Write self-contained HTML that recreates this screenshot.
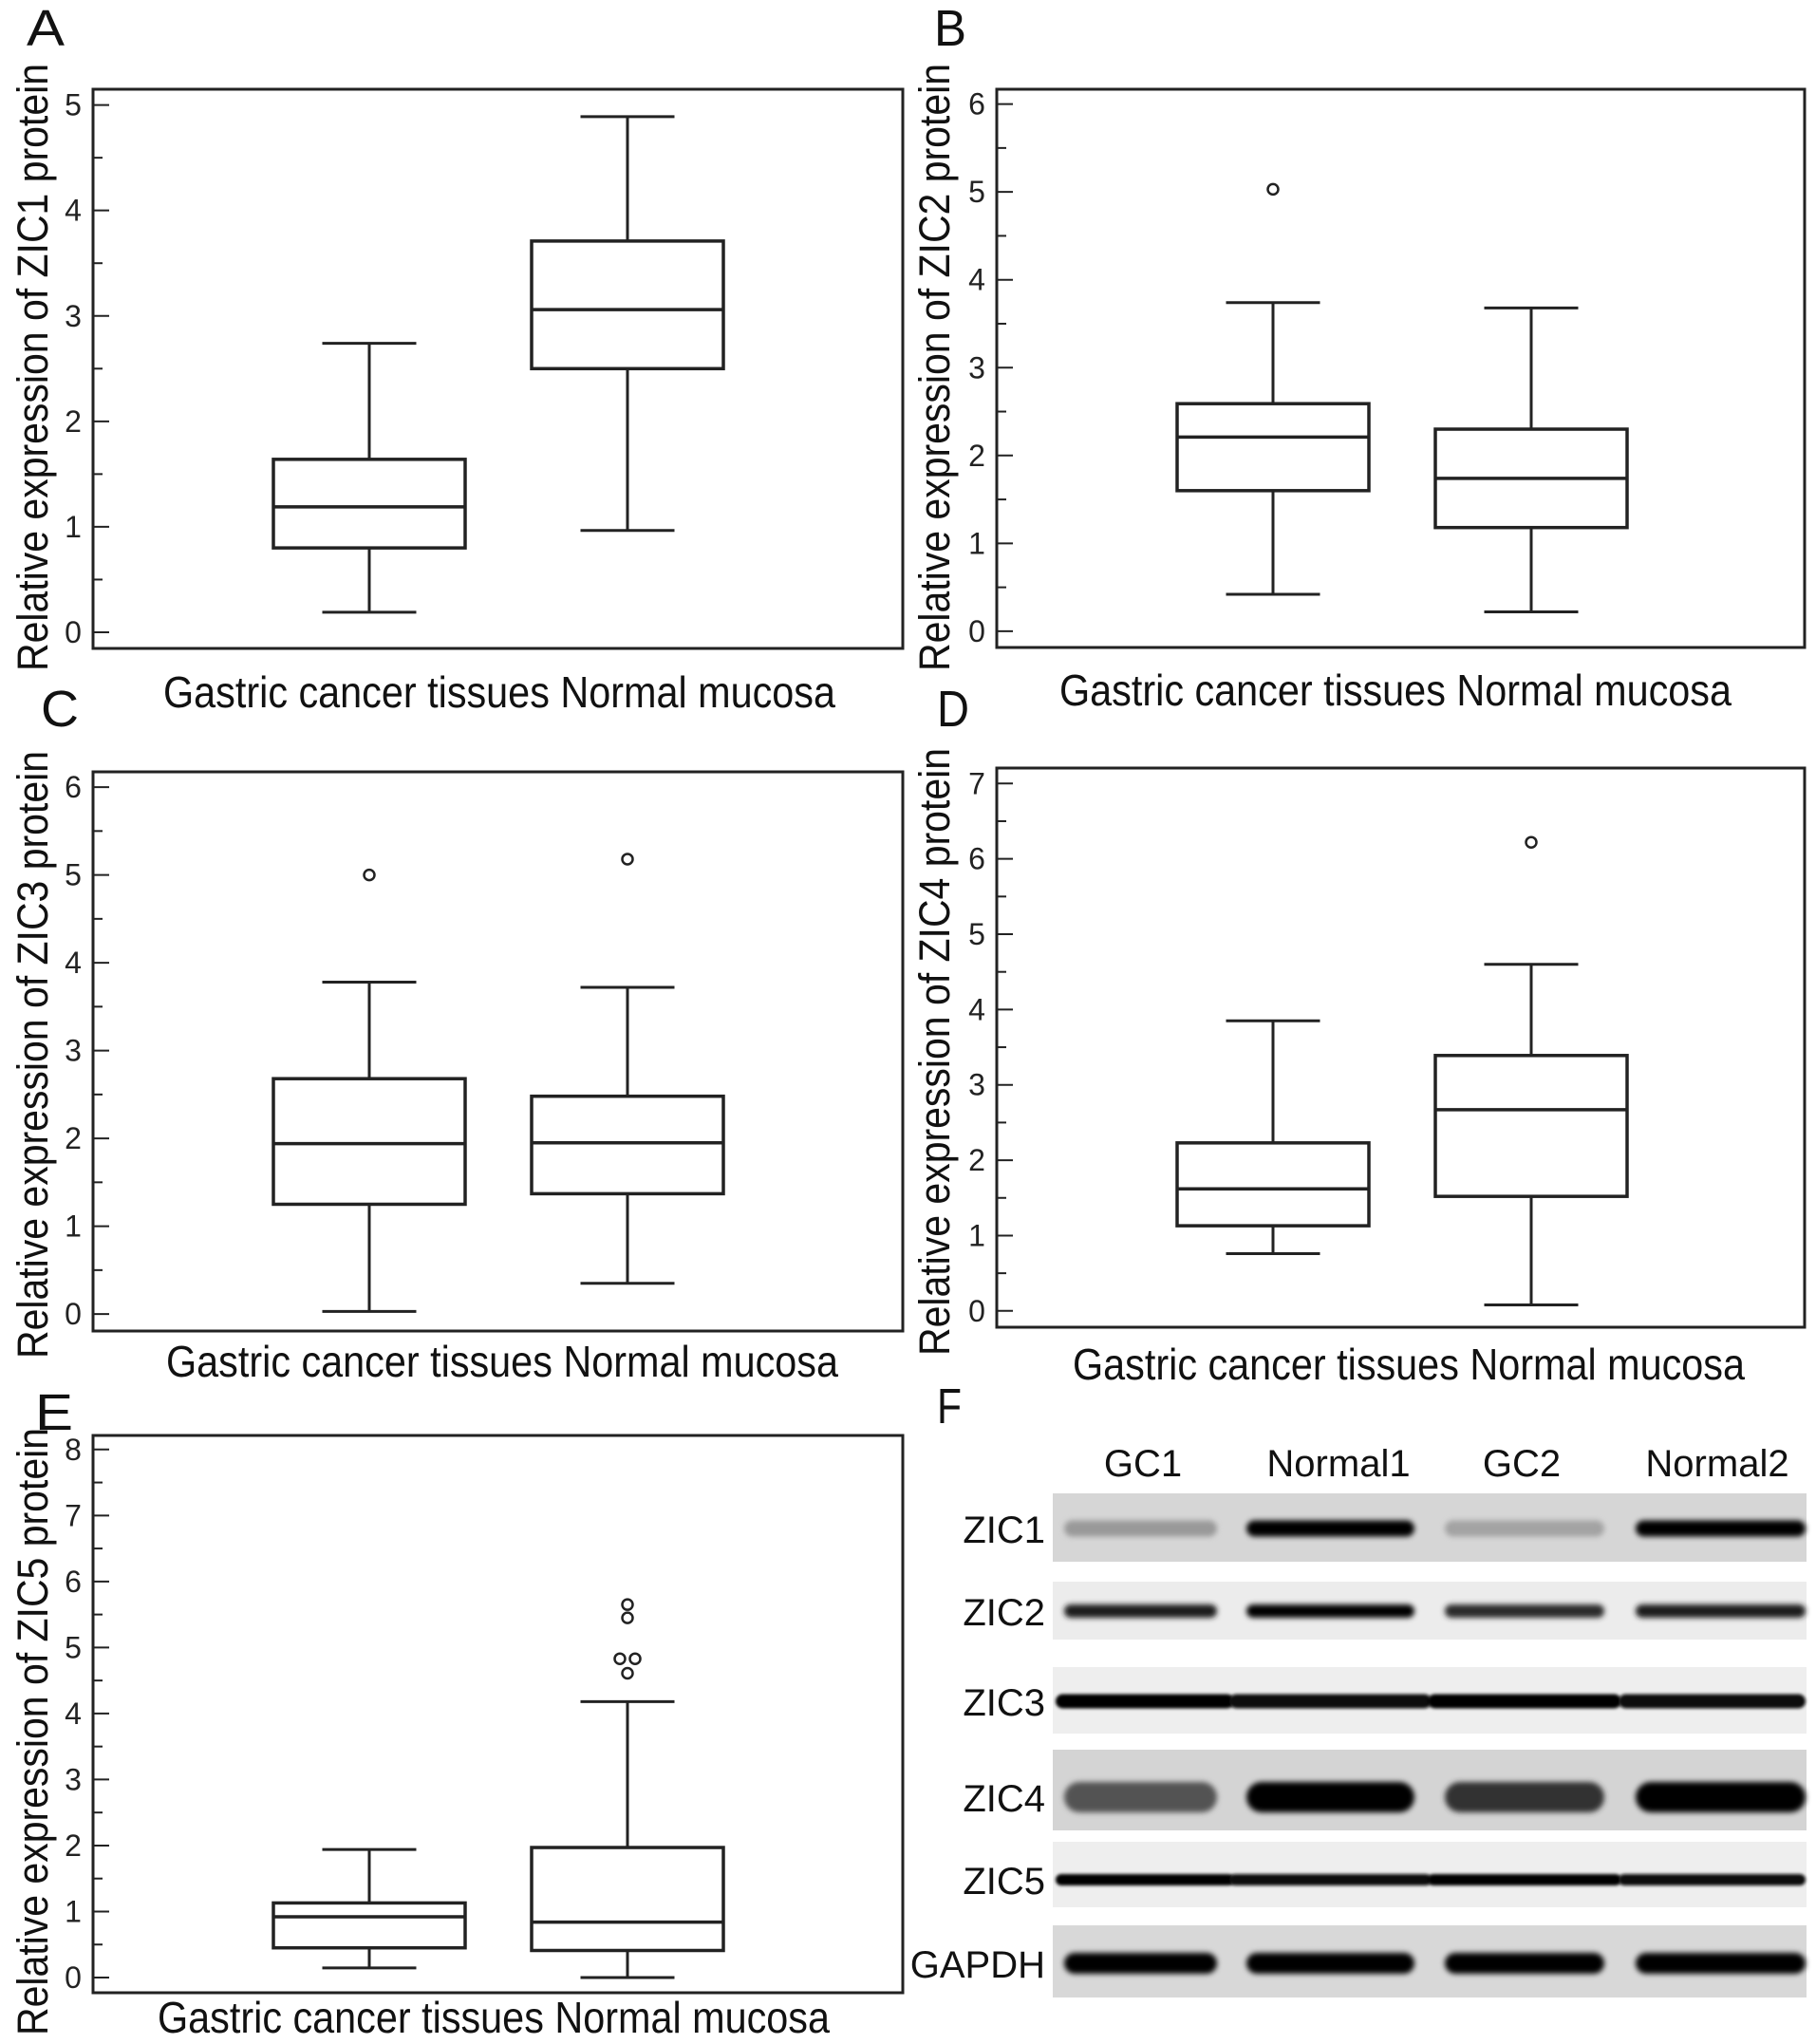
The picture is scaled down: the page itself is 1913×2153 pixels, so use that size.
<!DOCTYPE html>
<html><head><meta charset="utf-8"><style>
html,body{margin:0;padding:0;background:#fff;}
svg{display:block;font-family:"Liberation Sans",Arial,sans-serif;}
</style></head><body>
<svg id="fig" width="1913" height="2153" viewBox="0 0 1913 2153" xmlns="http://www.w3.org/2000/svg">
<defs>
<filter id="blur" x="-10%" y="-100%" width="120%" height="300%"><feGaussianBlur stdDeviation="3"/></filter>
<filter id="blur2" x="-10%" y="-100%" width="120%" height="300%"><feGaussianBlur stdDeviation="1.6"/></filter>
</defs>
<g id="plots"></g>
<g id="blot"></g>
</svg>
<script>
const NS="http://www.w3.org/2000/svg";
// ---- data ----
const groups=["Gastric cancer tissues","Normal mucosa"];
const proteins=["ZIC1","ZIC2","ZIC3","ZIC4","ZIC5"];
const panelLetters=["A","B","C","D","E"];
const yMaxTicks=[5,6,6,7,8];
// [min, q1, median, q3, max] for cancer / normal
const cancerStats=[[0.19,0.80,1.19,1.64,2.74],[0.42,1.60,2.21,2.59,3.74],[0.03,1.25,1.94,2.68,3.78],[0.76,1.13,1.62,2.23,3.85],[0.145,0.45,0.92,1.13,1.94]];
const normalStats=[[0.965,2.50,3.06,3.71,4.89],[0.22,1.18,1.74,2.30,3.68],[0.35,1.37,1.95,2.48,3.72],[0.08,1.52,2.67,3.39,4.60],[0.0,0.41,0.84,1.97,4.18]];
const cancerOutliers=[[],[5.03],[5.0],[],[]];
const normalOutliers=[[],[],[5.18],[6.22],[5.65,5.45,4.83,4.83,4.61]];
const normalOutlierJitter=[[],[],[0],[0],[0,0,-8,8,0]];
// ---- layout ----
const layouts=[
 {fx0:98,fx1:951,fy0:94,fy1:683,zero:666,top:110.6,c1:389,c2:661,lab:77,letter:[28,48],yl:[34,387],xl:[526,745]},
 {fx0:1050,fx1:1901,fy0:94,fy1:682,zero:664.9,top:109.6,c1:1341,c2:1613,lab:1029,letter:[984,48],yl:[984,387],xl:[1470,743]},
 {fx0:98,fx1:951,fy0:813,fy1:1402,zero:1384.1,top:829.1,c1:389,c2:661,lab:77,letter:[43,765],yl:[34,1111],xl:[529,1450]},
 {fx0:1050,fx1:1901,fy0:809,fy1:1398,zero:1380.8,top:825.3,c1:1341,c2:1613,lab:1029,letter:[987,765],yl:[984,1108],xl:[1484,1453]},
 {fx0:98,fx1:951,fy0:1512,fy1:2099,zero:2083,top:1526.8,c1:389,c2:661,lab:77,letter:[37,1506],yl:[34,1824],xl:[520,2141]}
];
const plots=document.getElementById('plots');
function mk(tag,attrs,parent){const e=document.createElementNS(NS,tag);for(const k in attrs)e.setAttribute(k,attrs[k]);(parent||plots).appendChild(e);return e;}
function line(g,x1,y1,x2,y2,w){return mk('line',{x1,y1,x2,y2,stroke:'#222',"stroke-width":w||3},g);}
function drawBox(g,yS,cx,st,outs,jit,name){
  const bg=mk('g',{},g);
  
  
  const hw=101,cw=49.5;
  line(bg,cx,yS(st[0]),cx,yS(st[1]));
  line(bg,cx,yS(st[3]),cx,yS(st[4]));
  line(bg,cx-cw,yS(st[0]),cx+cw,yS(st[0]));
  line(bg,cx-cw,yS(st[4]),cx+cw,yS(st[4]));
  mk('rect',{x:cx-hw,y:yS(st[3]),width:2*hw,height:yS(st[1])-yS(st[3]),fill:'none',stroke:'#222',"stroke-width":3.5},bg);
  line(bg,cx-hw,yS(st[2]),cx+hw,yS(st[2]),3.5);
  outs.forEach((v,i)=>{
    const c=mk('circle',{cx:cx+(jit?jit[i]:0),cy:yS(v),r:5.5,fill:'#fff',stroke:'#222',"stroke-width":2.5},bg);
    
    
  });
}
layouts.forEach((L,p)=>{
  const g=mk('g',{});
  
  
  const maxT=yMaxTicks[p];
  const ppu=(L.zero-L.top)/maxT;
  const yS=v=>L.zero-v*ppu;
  const fr=mk('rect',{x:L.fx0,y:L.fy0,width:L.fx1-L.fx0,height:L.fy1-L.fy0,fill:'none',stroke:'#222',"stroke-width":3},g);
  
  
  for(let t=0;t<=maxT;t++){
    line(g,L.fx0,yS(t),L.fx0+17,yS(t),2);
    if(t<maxT) line(g,L.fx0,yS(t+0.5),L.fx0+10,yS(t+0.5),2);
    const tx=mk('text',{x:L.lab,y:yS(t)+11,"font-size":32,"text-anchor":'middle',fill:'#222'},g);
    tx.textContent=t;
    
    
  }
  drawBox(g,yS,L.c1,cancerStats[p],cancerOutliers[p],null,'box-cancer');
  drawBox(g,yS,L.c2,normalStats[p],normalOutliers[p],normalOutlierJitter[p],'box-normal');
  const yl=mk('text',{x:0,y:0,"font-size":45,"text-anchor":'middle',fill:'#111',transform:`translate(${L.yl[0]+16},${L.yl[1]}) rotate(-90)`,textLength:640,lengthAdjust:'spacingAndGlyphs'},g);
  yl.textContent='Relative expression of '+proteins[p]+' protein';
  
  
  const xl=mk('text',{x:L.xl[0],y:L.xl[1],"font-size":46,"text-anchor":'middle',fill:'#111',textLength:708,lengthAdjust:'spacingAndGlyphs'},g);
  xl.textContent=groups.join(' ');
  
  
  const lt=mk('text',{x:L.letter[0],y:L.letter[1],"font-size":54,fill:'#111',textLength:L.letter[0]>900?34:40,lengthAdjust:'spacingAndGlyphs'},g);
  lt.textContent=panelLetters[p];
  
  
});
// ---- western blot ----
const blot=document.getElementById('blot');
const laneNames=["GC1","Normal1","GC2","Normal2"];
const rowNames=["ZIC1","ZIC2","ZIC3","ZIC4","ZIC5","GAPDH"];
// band darkness (0 = white, 1 = black) per lane
const bandIntensity=[[0.25,1,0.2,1],[0.85,1,0.8,0.85],[1,0.95,1,0.95],[0.6,1,0.75,1],[1,0.95,1,0.95],[1,1,1,1]];
const stripY=[[1573,1645],[1666,1727],[1756,1826],[1843,1928],[1940,2009],[2028,2104]];
const stripBg=['#d6d6d6','#ececec','#eeeeee','#d4d4d4','#eeeeee','#d8d8d8'];
const bandCy=[1610,1697,1792,1893,1980,2068];
const bandTh=[17,14,15,32,12,22];
const laneX=[[1121,1282],[1313,1490],[1522,1690],[1723,1902]];
const laneLabelX=[1204,1410,1603,1809];
const lt=mk('text',{x:987,y:1499,"font-size":52,fill:'#111',textLength:26,lengthAdjust:'spacingAndGlyphs'},blot);
lt.textContent='F';


laneNames.forEach((n,i)=>{
  const t=mk('text',{x:laneLabelX[i],y:1555,"font-size":40,"text-anchor":'middle',fill:'#111'},blot);
  t.textContent=n;
  
  
});
rowNames.forEach((n,r)=>{
  const s=mk('rect',{x:1109,y:stripY[r][0],width:794,height:stripY[r][1]-stripY[r][0],fill:stripBg[r]},blot);
  
  
  const t=mk('text',{x:1101,y:bandCy[r]+15,"font-size":40,"text-anchor":'end',fill:'#111'},blot);
  t.textContent=n;
  
  
  bandIntensity[r].forEach((v,i)=>{
    const g=Math.round(255*(1-v)*0.8);
    const cont=(r===2||r===4);
    const x0=cont?(i===0?1112:laneX[i][0]-18):laneX[i][0];
    const x1=cont?(i===3?1902:laneX[i][1]+18):laneX[i][1];
    const b=mk('rect',{x:x0,y:bandCy[r]-bandTh[r]/2,width:x1-x0,height:bandTh[r],rx:bandTh[r]/2,fill:`rgb(${g},${g},${g})`,filter:cont?'url(#blur2)':'url(#blur)'},blot);
    
    
  });
});
</script>
</body></html>
